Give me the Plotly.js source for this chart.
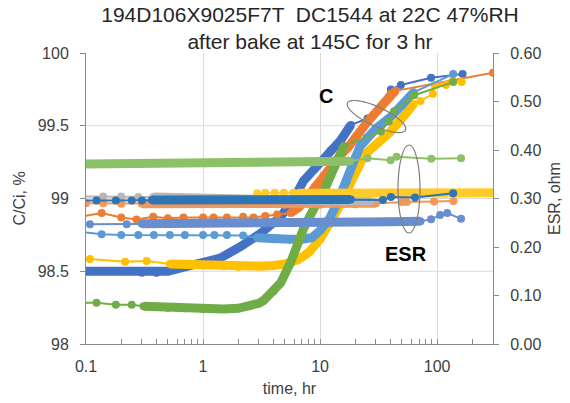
<!DOCTYPE html>
<html><head><meta charset="utf-8">
<script src="https://cdn.plot.ly/plotly-3.0.1.min.js"></script>
<style>html,body{margin:0;padding:0;background:#fff}#chart{width:570px;height:403px}</style>
</head><body><div id="chart"></div>
<script>
// ---------- capacitance C/Ci, % (left axis) ----------
const tC_blue   = [0.1, 0.15, 0.2, 0.3, 0.4, 0.5, 0.7, 1.0, 1.4, 2.1, 3.1, 4.6, 5.9, 7.2, 10, 12.3, 15, 18.3, 25.4, 40.3, 49, 88.7, 165];
const vC_blue   = [98.50, 98.50, 98.50, 98.49, 98.49, 98.50, 98.53, 98.555, 98.59, 98.67, 98.76, 98.875, 98.99, 99.12, 99.25, 99.33, 99.40, 99.505, 99.55, 99.75, 99.78, 99.83, 99.855];

const tC_orange = [0.09, 0.136, 0.2, 0.27, 0.375, 0.5, 0.68, 1.0, 1.23, 1.6, 2.2, 2.7, 3.4, 4.3, 5.6, 6.6, 7.6, 9, 11, 13, 15, 17.3, 20, 25, 33, 40, 44, 300];
const vC_orange = [98.875, 98.90, 98.87, 98.855, 98.875, 98.865, 98.87, 98.87, 98.87, 98.87, 98.875, 98.87, 98.88, 98.89, 98.90, 98.94, 99.0, 99.08, 99.15, 99.23, 99.30, 99.35, 99.42, 99.52, 99.63, 99.72, 99.74, 99.865];

const tC_yellow = [0.108, 0.216, 0.33, 0.52, 0.7, 1, 1.5, 2, 3, 4, 5, 6.5, 8, 10, 12, 14, 16, 18, 21, 24, 29, 33, 40, 50, 63, 72, 92, 95, 119, 135, 162];
const vC_yellow = [98.584, 98.566, 98.57, 98.55, 98.545, 98.54, 98.535, 98.53, 98.535, 98.54, 98.55, 98.58, 98.63, 98.72, 98.82, 98.92, 99.0, 99.1, 99.2, 99.3, 99.36, 99.40, 99.46, 99.55, 99.65, 99.67, 99.72, 99.78, 99.78, 99.81, 99.80];

const tC_ltblue = [0.09, 0.136, 0.2, 0.28, 0.38, 0.52, 0.7, 1.0, 1.25, 1.6, 2.2, 2.9, 4, 5.5, 7, 8.5, 10, 12, 14, 17, 20, 22, 25, 30, 40, 50, 63, 137];
const vC_ltblue = [98.77, 98.755, 98.75, 98.75, 98.75, 98.75, 98.75, 98.75, 98.75, 98.75, 98.745, 98.73, 98.72, 98.72, 98.72, 98.73, 98.78, 98.86, 98.97, 99.12, 99.28, 99.36, 99.42, 99.48, 99.56, 99.64, 99.73, 99.855];

const tC_green  = [0.09, 0.123, 0.18, 0.246, 0.31, 0.4, 0.5, 0.7, 1.0, 1.5, 2.0, 2.5, 3.0, 3.3, 4.0, 4.6, 5.6, 6.4, 7.2, 8.2, 9.5, 11.2, 13, 16, 33, 38.6, 42.8, 63.5, 137];
const vC_green  = [98.284, 98.284, 98.27, 98.27, 98.26, 98.255, 98.25, 98.245, 98.24, 98.24, 98.245, 98.26, 98.28, 98.30, 98.36, 98.42, 98.56, 98.69, 98.79, 98.88, 98.97, 99.08, 99.20, 99.36, 99.46, 99.53, 99.60, 99.71, 99.80];

// ---------- ESR, ohm (right axis) ----------
const tE_peri   = [0.09, 0.108, 0.223, 0.3, 0.5, 1, 2, 5, 10, 20, 40, 72, 88.7, 106, 122, 160];
const vE_peri   = [0.247, 0.247, 0.247, 0.248, 0.248, 0.249, 0.249, 0.250, 0.250, 0.251, 0.252, 0.253, 0.257, 0.266, 0.270, 0.258];

const tE_orange = [0.09, 0.1, 0.14, 0.2, 0.3, 1, 5, 10, 20, 30, 50, 55, 94, 138];
const vE_orange = [0.290, 0.290, 0.290, 0.289, 0.289, 0.289, 0.287, 0.287, 0.288, 0.290, 0.293, 0.293, 0.294, 0.295];

const tE_gray   = [0.09, 0.14, 0.2, 0.28, 0.376, 0.5, 1, 3, 10, 20, 27];
const vE_gray   = [0.304, 0.304, 0.304, 0.303, 0.303, 0.302, 0.300, 0.298, 0.296, 0.295, 0.294];

const tE_yellow = [2.9, 3.4, 4.1, 4.9, 5.9, 6.5, 10, 20, 50, 100, 200, 300];
const vE_yellow = [0.311, 0.312, 0.312, 0.312, 0.312, 0.311, 0.311, 0.311, 0.311, 0.312, 0.312, 0.312];

const tE_blue   = [0.09, 0.123, 0.18, 0.246, 0.3, 0.366, 0.5, 1, 3, 10, 18.3, 34.4, 40.3, 64.7, 137];
const vE_blue   = [0.296, 0.296, 0.296, 0.296, 0.296, 0.297, 0.297, 0.297, 0.297, 0.298, 0.298, 0.297, 0.303, 0.302, 0.311];

const tE_green  = [0.1, 0.3, 1, 3, 10, 18, 25.4, 40, 45, 89, 160];
const vE_green  = [0.371, 0.372, 0.373, 0.374, 0.376, 0.377, 0.383, 0.379, 0.386, 0.382, 0.383];

// axis tick labels
const xTickVals = [0.1, 1, 10, 100];
const xTickText = ['0.1', '1', '10', '100'];
const yTickVals = [98, 98.5, 99, 99.5, 100];
const yTickText = ['98', '98.5', '99', '99.5', '100'];
const y2TickVals = [0, 0.1, 0.2, 0.3, 0.4, 0.5, 0.6];
const y2TickText = ['0.00', '0.10', '0.20', '0.30', '0.40', '0.50', '0.60'];
const xMinorVals = [0.2,0.3,0.4,0.5,0.6,0.7,0.8,0.9,2,3,4,5,6,7,8,9,20,30,40,50,60,70,80,90,200];

const traces = [];
function addSeries(name, t, v, color, axis, bandFrom, bandTo) {
  if (bandFrom !== null) {
    traces.push({x: t.slice(bandFrom, bandTo + 1), y: v.slice(bandFrom, bandTo + 1),
      mode: 'lines', line: {color: color, width: 9}, yaxis: axis,
      showlegend: false, hoverinfo: 'skip'});
  }
  traces.push({name: name, x: t, y: v, mode: 'lines+markers', yaxis: axis,
    line: {color: color, width: 2}, marker: {color: color, size: 8}, showlegend: false});
}
addSeries('C 1', tC_blue,   vC_blue,   '#4472C4', 'y', 0, 17);
addSeries('C 2', tC_orange, vC_orange, '#ED7D31', 'y', 14, 26);
addSeries('C 4', tC_yellow, vC_yellow, '#FFC000', 'y', 3, 24);
addSeries('C 5', tC_ltblue, vC_ltblue, '#5B9BD5', 'y', 11, 26);
addSeries('C 6', tC_green,  vC_green,  '#70AD47', 'y', 4, 23);
addSeries('ESR 1', tE_peri,   vE_peri,   '#698ED0', 'y2', 3, 11);
addSeries('ESR 2', tE_orange, vE_orange, '#F1975A', 'y2', 4, 9);
addSeries('ESR 3', tE_gray,   vE_gray,   '#B7B7B7', 'y2', 4, 10);
addSeries('ESR 4', tE_yellow, vE_yellow, '#FFCA2C', 'y2', 5, 11);
addSeries('ESR 5', tE_blue,   vE_blue,   '#2E75B6', 'y2', 5, 10);
addSeries('ESR 6', tE_green,  vE_green,  '#8CC168', 'y2', 0, 5);

// plot area in pixels (for annotation shapes)
const L = 86, R = 493, T = 53, B = 344;
const px = X => (X - L) / (R - L);
const py = Y => (B - Y) / (B - T);
// tilted ellipse around C curves
function ellipsePath(cx, cy, a, b, deg) {
  const th = deg * Math.PI / 180; let d = '';
  for (let i = 0; i <= 72; i++) {
    const u = i / 72 * 2 * Math.PI;
    const X = cx + a * Math.cos(u) * Math.cos(th) - b * Math.sin(u) * Math.sin(th);
    const Y = cy + a * Math.cos(u) * Math.sin(th) + b * Math.sin(u) * Math.cos(th);
    d += (i ? 'L' : 'M') + px(X).toFixed(4) + ',' + py(Y).toFixed(4);
  }
  return d + 'Z';
}

const gridColor = '#D9D9D9', axisColor = '#8C8C8C';
const shapes = [98.5, 99, 99.5].map(v => ({type: 'line', xref: 'paper', x0: 0, x1: 1, yref: 'y', y0: v, y1: v,
  line: {color: gridColor, width: 1}, layer: 'below'}));
shapes.push({type: 'path', xref: 'paper', yref: 'paper', path: ellipsePath(376.5, 116.5, 32, 9.5, 25),
  line: {color: '#7F7F7F', width: 1.2}});
shapes.push({type: 'circle', xref: 'paper', yref: 'paper', x0: px(398), x1: px(420), y0: py(233), y1: py(145),
  line: {color: '#7F7F7F', width: 1.2}});

const font = 'Liberation Sans, Arial, sans-serif';
const layout = {
  width: 570, height: 403,
  margin: {l: L, r: 570 - R, t: T, b: 403 - B},
  paper_bgcolor: '#fff', plot_bgcolor: '#fff',
  font: {family: font, size: 16, color: '#404040'},
  showlegend: false,
  title: {text: '194D106X9025F7T  DC1544 at 22C 47%RH<br>after bake at 145C for 3 hr',
    font: {family: font, size: 21, color: '#262626'},
    xref: 'container', x: 310 / 570, xanchor: 'center', yref: 'container', y: 0.945, yanchor: 'top'},
  xaxis: {type: 'log', range: [-1, Math.log10(300)], tickvals: xTickVals, ticktext: xTickText,
    showline: true, linecolor: axisColor, linewidth: 1, mirror: false,
    ticks: 'inside', ticklen: 5, tickcolor: axisColor, ticklabelstandoff: 8,
    minor: {tickvals: xMinorVals, ticks: 'inside', ticklen: 5, tickcolor: axisColor, showgrid: false},
    showgrid: true, gridcolor: gridColor, zeroline: false,
    title: {text: 'time, hr', font: {size: 16, color: '#404040'}, standoff: 8}},
  yaxis: {range: [98, 100], tickvals: yTickVals, ticktext: yTickText,
    showline: true, linecolor: axisColor, ticks: 'outside', ticklen: 5, tickcolor: axisColor,
    ticklabelstandoff: 8, showgrid: false, zeroline: false,
    title: {text: 'C/Ci, %', font: {size: 16, color: '#404040'}, standoff: 8}},
  yaxis2: {range: [0, 0.6], tickvals: y2TickVals, ticktext: y2TickText, overlaying: 'y', side: 'right',
    showline: true, linecolor: axisColor, ticks: 'outside', ticklen: 5, tickcolor: axisColor,
    ticklabelstandoff: 8, showgrid: false, zeroline: false,
    title: {text: 'ESR, ohm', font: {size: 16, color: '#404040'}, standoff: 8}},
  shapes: shapes,
  annotations: [
    {text: '<b>C</b>', xref: 'paper', yref: 'paper', x: px(326), y: py(96), xanchor: 'center', yanchor: 'middle',
      showarrow: false, font: {family: font, size: 20, color: '#000'}},
    {text: '<b>ESR</b>', xref: 'paper', yref: 'paper', x: px(406), y: py(254), xanchor: 'center', yanchor: 'middle',
      showarrow: false, font: {family: font, size: 20, color: '#000'}}
  ]
};
Plotly.newPlot('chart', traces, layout, {staticPlot: true, displayModeBar: false});
</script></body></html>
